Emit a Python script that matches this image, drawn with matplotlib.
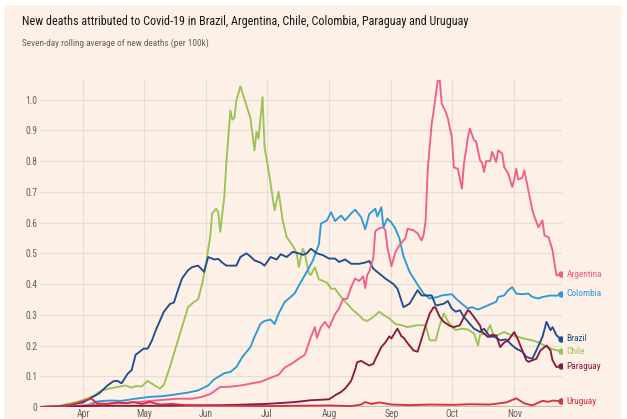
import matplotlib
matplotlib.use('Agg')
import matplotlib.pyplot as plt
import matplotlib.dates as mdates
import matplotlib.patches as mpatches
from matplotlib import font_manager
import pandas as pd

# ─── data (dates are 2020) ───────────────────────────────────────────────────
brazil_dates = ['03-10', '03-18', '03-25', '04-01', '04-05', '04-09', '04-13', '04-16', '04-18', '04-20',
                '04-23', '04-25', '04-27', '05-01', '05-03', '05-05', '05-07', '05-09', '05-11', '05-14',
                '05-16', '05-18', '05-20', '05-23', '05-25', '05-28', '05-31', '06-02', '06-05', '06-07',
                '06-09', '06-11', '06-14', '06-16', '06-18', '06-21', '06-23', '06-25', '06-28', '06-30',
                '07-03', '07-06', '07-08', '07-11', '07-14', '07-17', '07-19', '07-21', '07-23', '07-26',
                '07-29', '08-01', '08-04', '08-06', '08-09', '08-12', '08-16', '08-19', '08-21', '08-23',
                '08-26', '08-29', '09-02', '09-04', '09-07', '09-10', '09-14', '09-16', '09-21', '09-23',
                '09-27', '09-29', '10-01', '10-03', '10-05', '10-07', '10-10', '10-12', '10-15', '10-17',
                '10-20', '10-22', '10-25', '10-28', '10-31', '11-02', '11-05', '11-07', '11-10', '11-12',
                '11-15', '11-17', '11-19', '11-20', '11-22', '11-24']
brazil = [0.0, 0.002, 0.006, 0.015, 0.03, 0.045, 0.07, 0.084, 0.085, 0.077,
          0.108, 0.12, 0.17, 0.19, 0.19, 0.215, 0.25, 0.28, 0.31, 0.335,
          0.34, 0.38, 0.418, 0.445, 0.455, 0.46, 0.44, 0.488, 0.48, 0.482,
          0.47, 0.46, 0.46, 0.46, 0.488, 0.50, 0.49, 0.477, 0.47, 0.46,
          0.488, 0.48, 0.497, 0.488, 0.505, 0.50, 0.495, 0.50, 0.515, 0.50,
          0.494, 0.483, 0.483, 0.472, 0.48, 0.466, 0.466, 0.47, 0.475, 0.45,
          0.434, 0.418, 0.40, 0.385, 0.325, 0.336, 0.38, 0.363, 0.363, 0.33,
          0.336, 0.345, 0.32, 0.31, 0.315, 0.293, 0.27, 0.255, 0.244, 0.255,
          0.228, 0.23, 0.217, 0.22, 0.20, 0.19, 0.18, 0.163, 0.157, 0.185,
          0.228, 0.277, 0.25, 0.26, 0.233, 0.222]

chile_dates = ['03-10', '03-20', '03-24', '03-28', '04-03', '04-07', '04-10', '04-14', '04-18', '04-22',
               '04-25', '04-27', '04-30', '05-03', '05-06', '05-09', '05-11', '05-14', '05-17', '05-20',
               '05-23', '05-26', '05-28', '05-30', '06-01', '06-03', '06-04', '06-06', '06-07', '06-08',
               '06-10', '06-11', '06-13', '06-14', '06-15', '06-16', '06-18', '06-20', '06-22', '06-23',
               '06-25', '06-26', '06-27', '06-29', '06-30', '07-02', '07-04', '07-05', '07-07', '07-09',
               '07-11', '07-14', '07-16', '07-17', '07-19', '07-20', '07-22', '07-23', '07-25', '07-27',
               '07-31', '08-02', '08-04', '08-07', '08-10', '08-13', '08-16', '08-18', '08-20', '08-23',
               '08-26', '08-28', '08-31', '09-03', '09-06', '09-09', '09-14', '09-18', '09-20', '09-23',
               '09-25', '09-27', '09-29', '10-01', '10-03', '10-06', '10-09', '10-12', '10-14', '10-15',
               '10-18', '10-20', '10-22', '10-24', '10-27', '10-30', '11-03', '11-06', '11-10', '11-13',
               '11-16', '11-19', '11-24']
chile = [0.0, 0.003, 0.01, 0.015, 0.027, 0.04, 0.054, 0.06, 0.065, 0.07,
         0.063, 0.068, 0.067, 0.085, 0.072, 0.06, 0.072, 0.13, 0.195, 0.26,
         0.325, 0.342, 0.35, 0.40, 0.47, 0.553, 0.63, 0.645, 0.635, 0.57,
         0.683, 0.79, 0.965, 0.935, 0.94, 0.997, 1.043, 1.003, 0.96, 0.94,
         0.835, 0.895, 0.873, 1.008, 0.846, 0.77, 0.683, 0.64, 0.70, 0.607,
         0.553, 0.525, 0.50, 0.455, 0.515, 0.50, 0.434, 0.43, 0.455, 0.415,
         0.405, 0.385, 0.385, 0.358, 0.336, 0.315, 0.298, 0.284, 0.28, 0.293,
         0.31, 0.30, 0.288, 0.27, 0.266, 0.26, 0.266, 0.266, 0.217, 0.217,
         0.266, 0.304, 0.28, 0.26, 0.25, 0.255, 0.252, 0.239, 0.20, 0.235,
         0.24, 0.266, 0.228, 0.235, 0.244, 0.235, 0.228, 0.222, 0.217, 0.21,
         0.20, 0.19, 0.181]

colombia_dates = ['03-10', '03-25', '04-01', '04-04', '04-08', '04-11', '04-15', '04-20', '04-27', '05-04',
                  '05-10', '05-16', '05-23', '05-28', '06-02', '06-05', '06-07', '06-10', '06-13', '06-16',
                  '06-19', '06-23', '06-25', '06-28', '06-30', '07-03', '07-05', '07-07', '07-10', '07-13',
                  '07-15', '07-17', '07-21', '07-24', '07-27', '07-28', '07-31', '08-02', '08-04', '08-07',
                  '08-09', '08-12', '08-14', '08-17', '08-19', '08-21', '08-24', '08-25', '08-27', '08-28',
                  '08-30', '09-01', '09-03', '09-05', '09-07', '09-10', '09-14', '09-17', '09-20', '09-24',
                  '09-26', '10-01', '10-03', '10-06', '10-09', '10-11', '10-14', '10-17', '10-20', '10-23',
                  '10-24', '10-27', '10-29', '10-31', '11-02', '11-05', '11-08', '11-10', '11-13', '11-15',
                  '11-19', '11-22', '11-24']
colombia = [0.0, 0.002, 0.004, 0.008, 0.018, 0.02, 0.021, 0.02, 0.027, 0.033,
            0.035, 0.04, 0.047, 0.054, 0.07, 0.09, 0.098, 0.11, 0.114, 0.13,
            0.163, 0.195, 0.228, 0.271, 0.28, 0.284, 0.27, 0.304, 0.342, 0.358,
            0.37, 0.395, 0.44, 0.477, 0.53, 0.597, 0.607, 0.634, 0.605, 0.623,
            0.607, 0.63, 0.642, 0.617, 0.578, 0.628, 0.645, 0.62, 0.65, 0.585,
            0.613, 0.60, 0.58, 0.548, 0.49, 0.44, 0.398, 0.369, 0.353, 0.358,
            0.363, 0.367, 0.353, 0.336, 0.32, 0.325, 0.317, 0.325, 0.334, 0.342,
            0.358, 0.363, 0.38, 0.39, 0.369, 0.367, 0.369, 0.358, 0.353, 0.358,
            0.363, 0.362, 0.369]

argentina_dates = ['03-10', '03-20', '04-01', '04-10', '04-20', '04-28', '05-10', '05-18', '05-25', '05-30',
                   '06-03', '06-08', '06-13', '06-18', '06-23', '06-28', '07-03', '07-07', '07-10', '07-14',
                   '07-17', '07-20', '07-23', '07-25', '07-26', '07-28', '07-30', '08-01', '08-04', '08-06',
                   '08-08', '08-10', '08-12', '08-14', '08-16', '08-18', '08-19', '08-20', '08-21', '08-23',
                   '08-24', '08-26', '08-28', '08-29', '08-30', '09-01', '09-03', '09-05', '09-08', '09-09',
                   '09-12', '09-14', '09-16', '09-17', '09-18', '09-19', '09-21', '09-22', '09-24', '09-25',
                   '09-26', '09-28', '09-29', '10-01', '10-02', '10-04', '10-06', '10-07', '10-09', '10-10',
                   '10-12', '10-13', '10-15', '10-16', '10-17', '10-18', '10-20', '10-21', '10-23', '10-24',
                   '10-26', '10-27', '10-29', '10-31', '11-01', '11-02', '11-03', '11-05', '11-06', '11-08',
                   '11-10', '11-11', '11-13', '11-15', '11-16', '11-18', '11-20', '11-21', '11-22', '11-24']
argentina = [0.0, 0.002, 0.005, 0.01, 0.013, 0.016, 0.023, 0.027, 0.027, 0.033,
             0.042, 0.065, 0.066, 0.07, 0.076, 0.082, 0.095, 0.105, 0.128, 0.143,
             0.157, 0.17, 0.228, 0.26, 0.225, 0.26, 0.277, 0.258, 0.302, 0.32,
             0.352, 0.352, 0.39, 0.418, 0.41, 0.425, 0.387, 0.43, 0.44, 0.485,
             0.572, 0.582, 0.585, 0.575, 0.52, 0.458, 0.504, 0.526, 0.55, 0.58,
             0.575, 0.565, 0.542, 0.56, 0.607, 0.77, 0.922, 0.965, 1.063, 1.063,
             0.987, 0.96, 0.94, 0.878, 0.78, 0.775, 0.71, 0.79, 0.878, 0.906,
             0.868, 0.865, 0.803, 0.795, 0.765, 0.80, 0.80, 0.83, 0.797, 0.835,
             0.825, 0.78, 0.76, 0.716, 0.74, 0.775, 0.74, 0.746, 0.77, 0.705,
             0.64, 0.62, 0.585, 0.607, 0.558, 0.553, 0.51, 0.466, 0.428, 0.432]

paraguay_dates = ['03-10', '03-25', '04-10', '05-10', '06-10', '07-01', '07-15', '07-23', '08-01', '08-04',
                  '08-07', '08-09', '08-12', '08-14', '08-15', '08-17', '08-19', '08-21', '08-23', '08-24',
                  '08-27', '08-29', '08-31', '09-01', '09-03', '09-04', '09-06', '09-07', '09-09', '09-12',
                  '09-14', '09-16', '09-18', '09-20', '09-22', '09-23', '09-25', '09-27', '09-30', '10-02',
                  '10-05', '10-07', '10-09', '10-10', '10-12', '10-15', '10-16', '10-19', '10-21', '10-23',
                  '10-25', '10-27', '10-29', '11-01', '11-03', '11-05', '11-07', '11-08', '11-12', '11-14',
                  '11-17', '11-19', '11-20', '11-22', '11-24']
paraguay = [0.0, 0.002, 0.004, 0.004, 0.006, 0.01, 0.016, 0.022, 0.025, 0.038,
            0.049, 0.06, 0.085, 0.122, 0.146, 0.15, 0.142, 0.135, 0.14, 0.155,
            0.195, 0.21, 0.23, 0.223, 0.245, 0.255, 0.23, 0.226, 0.208, 0.184,
            0.18, 0.222, 0.265, 0.304, 0.325, 0.322, 0.293, 0.277, 0.264, 0.26,
            0.266, 0.293, 0.315, 0.31, 0.293, 0.265, 0.244, 0.228, 0.235, 0.233,
            0.195, 0.21, 0.217, 0.244, 0.217, 0.184, 0.152, 0.147, 0.157, 0.184,
            0.20, 0.184, 0.152, 0.13, 0.132]

uruguay_dates = ['03-10', '03-20', '03-25', '03-30', '04-03', '04-05', '04-08', '04-13', '04-18', '04-22',
                 '04-26', '04-30', '05-04', '05-09', '05-15', '05-22', '06-01', '06-15', '07-01', '07-15',
                 '08-01', '08-12', '08-17', '08-19', '08-22', '08-26', '09-01', '09-10', '09-20', '10-01',
                 '10-10', '10-20', '10-28', '11-02', '11-06', '11-10', '11-15', '11-18', '11-20', '11-24']
uruguay = [0.0, 0.0, 0.005, 0.015, 0.024, 0.027, 0.012, 0.01, 0.015, 0.012,
           0.016, 0.01, 0.016, 0.008, 0.01, 0.006, 0.005, 0.004, 0.003, 0.004,
           0.005, 0.003, 0.008, 0.016, 0.01, 0.015, 0.008, 0.006, 0.008, 0.007,
           0.009, 0.008, 0.015, 0.028, 0.012, 0.005, 0.02, 0.017, 0.021, 0.019]

names = ['Chile', 'Colombia', 'Brazil', 'Argentina', 'Paraguay', 'Uruguay']
colors = ['#9cc255', '#2f98d9', '#1f4e8e', '#ef5f8c', '#8a1a3e', '#d7303f']
series = [(chile_dates, chile), (colombia_dates, colombia), (brazil_dates, brazil),
          (argentina_dates, argentina), (paraguay_dates, paraguay), (uruguay_dates, uruguay)]

month_ticks = ['2020-04-01', '2020-05-01', '2020-06-01', '2020-07-01',
               '2020-08-01', '2020-09-01', '2020-10-01', '2020-11-01']
y_ticks = [0, 0.1, 0.2, 0.3, 0.4, 0.5, 0.6, 0.7, 0.8, 0.9, 1.0]

TITLE = 'New deaths attributed to Covid-19 in Brazil, Argentina, Chile, Colombia, Paraguay and Uruguay'
SUBTITLE = 'Seven-day rolling average of new deaths (per 100k)'


# ─── fonts: prefer something narrow, like the FT house face ─────────────────
def pick_font():
    entries = font_manager.fontManager.ttflist
    names_ = {f.name for f in entries}
    for want in ['Liberation Sans Narrow', 'Roboto Condensed', 'Open Sans Condensed', 'Noto Sans Condensed']:
        if want in names_:
            return want, 'normal'
    for fam in ['DejaVu Sans', 'Noto Sans', 'Open Sans', 'Roboto']:
        if any(f.name == fam and 'condensed' in str(f.stretch) for f in entries):
            return fam, 'condensed'
    return 'Lato' if 'Lato' in names_ else 'DejaVu Sans', 'normal'


FONT, STRETCH = pick_font()
plt.rcParams['font.family'] = FONT
plt.rcParams['font.stretch'] = STRETCH

PAPER = '#fdf0e6'
GRID = '#e9ddd2'
TXT = '#66605c'

W, H = 627, 419
fig = plt.figure(figsize=(W / 100, H / 100), dpi=100)
fig.patch.set_facecolor('white')
fig.add_artist(mpatches.Rectangle((4 / W, 0), 617 / W, (H - 5) / H, transform=fig.transFigure,
                                  facecolor=PAPER, edgecolor='none', zorder=0))
renderer = fig.canvas.get_renderer()


def fit(text, px, guess=8):
    # font size that makes `text` about `px` pixels wide
    t = fig.text(0, 0, text, fontsize=guess)
    w = t.get_window_extent(renderer).width
    t.remove()
    return guess * px / w


title_fs = min(fit(TITLE, 448), 10.5)
sub_fs = min(fit(SUBTITLE, 186), 7.5)
lab_fs = min(fit('Argentina', 36), 7.5)
tick_fs = min(fit('0.9', 12), 7.5)

ax = fig.add_axes([40 / W, 12 / H, 522 / W, 327 / H])
ax.set_facecolor('none')

for (d, v), name, c in zip(series, names, colors):
    x = pd.to_datetime(['2020-' + s for s in d])
    ax.plot(x, v, color=c, lw=1.35, zorder=3, solid_joinstyle='round')
    ax.plot(x[-1:], v[-1:], 'o', color=c, ms=3.6, zorder=4)
    ax.annotate(name, (x[-1], v[-1]), xytext=(4.2, 0), textcoords='offset points',
                ha='left', va='center', fontsize=lab_fs, color=c, annotation_clip=False)

ax.set_xlim(pd.Timestamp('2020-03-10 12:00'), pd.Timestamp('2020-11-24 17:00'))
ax.set_ylim(0, 1.064)

ax.set_xticks(pd.to_datetime(month_ticks))
ax.xaxis.set_major_formatter(mdates.DateFormatter('%b'))
ax.set_yticks(y_ticks)
ax.set_yticklabels(['0' if t == 0 else f'{t:.1f}' for t in y_ticks])
ax.tick_params(axis='both', length=0, labelsize=tick_fs, colors=TXT)
ax.tick_params(axis='y', pad=2)
ax.tick_params(axis='x', pad=1.5)

ax.grid(True, color=GRID, lw=0.8, zorder=1)
ax.set_axisbelow(True)
for s in ax.spines.values():
    s.set_visible(False)
ax.axhline(0, color='#c6bdb4', lw=1.6, zorder=2)

# ─── titles ──────────────────────────────────────────────────────────────────
fig.text(22 / W, 1 - 21 / H, TITLE, ha='left', va='center', fontsize=title_fs, color='#1a1817')
fig.text(22 / W, 1 - 43 / H, SUBTITLE, ha='left', va='center', fontsize=sub_fs, color=TXT)

fig.savefig('out.png', dpi=100, facecolor=fig.get_facecolor())
